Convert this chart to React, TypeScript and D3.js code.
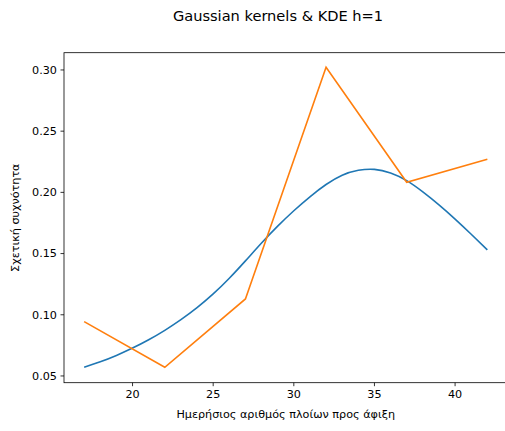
import React from "react";
import * as d3 from "d3";

// Daily ship arrivals: relative frequency and Gaussian KDE (h=1)
const arrivals = [17, 22, 27, 32, 37, 42];
const relFreq = [0.0944, 0.0571, 0.1129, 0.3022, 0.2083, 0.227];

const kdeX = [17, 18, 19, 20, 21, 22, 23, 24, 25, 26, 27, 28, 29, 30, 31, 32, 33, 34, 35, 36, 37, 38, 39, 40, 41, 42];
const kdeY = [
  0.0571, 0.0616, 0.0668, 0.0728, 0.0796, 0.0873, 0.096, 0.1058, 0.117, 0.1298, 0.144, 0.1586, 0.1724,
  0.185, 0.1964, 0.2064, 0.214, 0.218, 0.2188, 0.2158, 0.2096, 0.2004, 0.1898, 0.1782, 0.1658, 0.153,
];

const xTicks = [20, 25, 30, 35, 40];
const yTicks = [0.05, 0.1, 0.15, 0.2, 0.25, 0.3];

const W = 505;
const H = 431;
const M = { left: 64, top: 52.7, right: 507.5, bottom: 382.7 };
const FONT = "DejaVu Sans, sans-serif";

export default function App() {
  const xs = d3.scaleLinear().domain([15.75, 43.25]).range([M.left, M.right]);
  const ys = d3.scaleLinear().domain([0.0445, 0.3141]).range([M.bottom, M.top]);

  const freqLine = d3
    .line<number>()
    .x((_, i) => xs(arrivals[i]))
    .y((d) => ys(d))(relFreq);

  const kdeLine = d3
    .line<number>()
    .x((_, i) => xs(kdeX[i]))
    .y((d) => ys(d))
    .curve(d3.curveNatural)(kdeY);

  return (
    <svg
      width={W}
      height={H}
      style={{ position: "absolute", left: 0, top: 0, background: "#fff" }}
      fontFamily={FONT}
    >
      <rect x={0} y={0} width={W} height={H} fill="#fff" />
      <text x={278} y={21} textAnchor="middle" fontSize={14.6} fill="#000">
        Gaussian kernels &amp; KDE h=1
      </text>

      <path d={kdeLine ?? ""} fill="none" stroke="#1f77b4" strokeWidth={1.6} />
      <path d={freqLine ?? ""} fill="none" stroke="#ff7f0e" strokeWidth={1.6} />

      {/* spines */}
      <rect
        x={M.left}
        y={M.top}
        width={M.right - M.left}
        height={M.bottom - M.top}
        fill="none"
        stroke="#000"
        strokeWidth={0.8}
      />

      {xTicks.map((t) => (
        <g key={`x${t}`} transform={`translate(${xs(t)},${M.bottom})`}>
          <line y1={0} y2={3.5} stroke="#000" strokeWidth={0.8} />
          <text y={15} textAnchor="middle" fontSize={11.2} fill="#000">
            {t}
          </text>
        </g>
      ))}

      {yTicks.map((t) => (
        <g key={`y${t}`} transform={`translate(${M.left},${ys(t)})`}>
          <line x1={0} x2={-3.5} stroke="#000" strokeWidth={0.8} />
          <text x={-7} dy="0.35em" textAnchor="end" fontSize={11.2} fill="#000">
            {t.toFixed(2)}
          </text>
        </g>
      ))}

      <text x={285.7} y={418} textAnchor="middle" fontSize={11.2} fill="#000">
        Ημερήσιος αριθμός πλοίων προς άφιξη
      </text>
      <text
        transform={`translate(19,${(M.top + M.bottom) / 2}) rotate(-90)`}
        textAnchor="middle"
        fontSize={11.2}
        fill="#000"
      >
        Σχετική συχνότητα
      </text>
    </svg>
  );
}
